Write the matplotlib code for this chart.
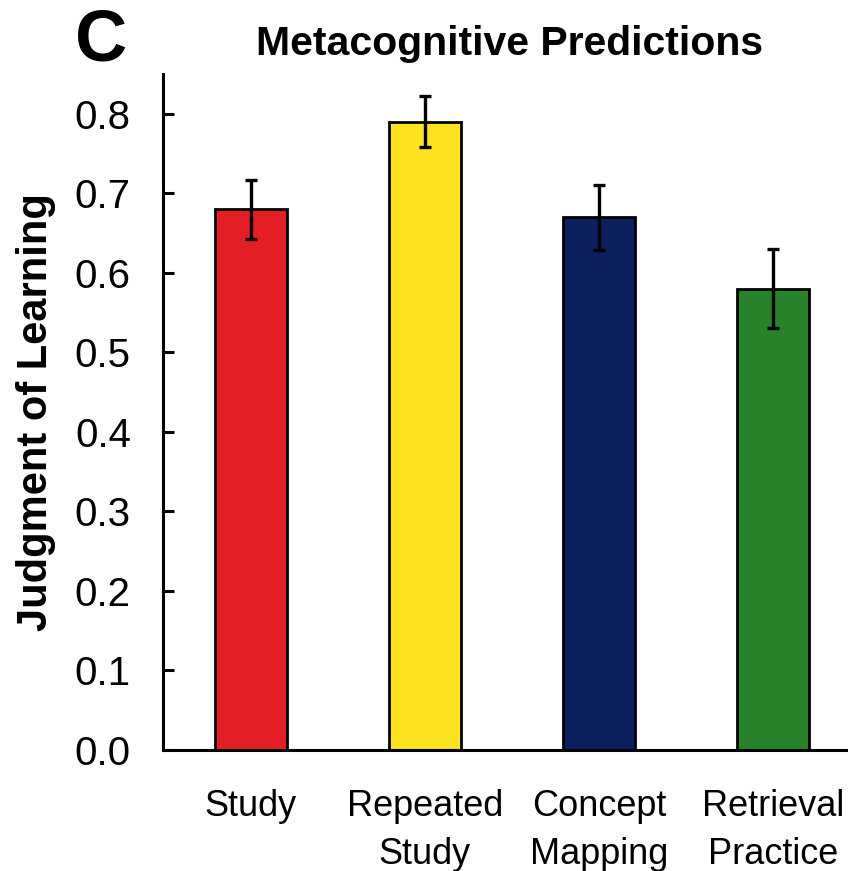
import numpy as np
import matplotlib
matplotlib.use("Agg")
import matplotlib.pyplot as plt

# ── data ──────────────────────────────────────────────────
conditions = ["Study", "Repeated\nStudy", "Concept\nMapping", "Retrieval\nPractice"]
jol_mean   = [0.68, 0.79, 0.67, 0.58]
jol_err    = [0.037, 0.032, 0.041, 0.05]
bar_colors = ["#E31E24", "#FDE21F", "#0B1F5F", "#278229"]

plt.rcParams["font.family"] = ["Liberation Sans", "DejaVu Sans"]

fig = plt.figure(figsize=(8.48, 8.71), dpi=100)
ax = fig.add_axes([0.192, 0.139, 0.808, 0.776])

x = np.arange(len(conditions))
ax.bar(x, jol_mean, width=0.41, color=bar_colors,
       edgecolor="black", linewidth=2.0, zorder=2)
ax.errorbar(x, jol_mean, yerr=jol_err, fmt="none", ecolor="black",
            elinewidth=2.4, capsize=4, capthick=2.4, zorder=3)

ax.set_xlim(-0.506, 3.43)
ax.set_ylim(0, 0.85)
yt = np.arange(0, 0.81, 0.1)
ax.set_yticks(yt)
ax.set_yticklabels([f"{v:.1f}" for v in yt], fontsize=29)
ax.set_xticks(x)
ax.set_xticklabels(conditions, fontsize=26, linespacing=1.5)

for s in ["top", "right"]:
    ax.spines[s].set_visible(False)
for s in ["left", "bottom"]:
    ax.spines[s].set_linewidth(2.2)

ax.tick_params(axis="y", direction="in", length=8, width=2.2, pad=23)
ax.tick_params(axis="x", length=0, pad=28)

ax.set_ylabel("Judgment of Learning", fontsize=30, fontweight="bold", va="center")
ax.yaxis.set_label_coords(-0.185, 0.5)

fig.text(0.601, 0.937, "Metacognitive Predictions",
         ha="center", va="baseline", fontsize=29.5, fontweight="bold")
fig.text(0.088, 0.931, "C", ha="left", va="baseline",
         fontsize=52, fontweight="bold")

plt.savefig("out.png", dpi=100)
